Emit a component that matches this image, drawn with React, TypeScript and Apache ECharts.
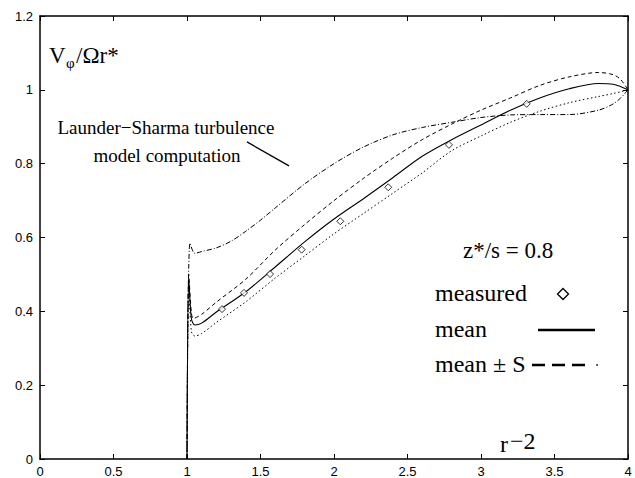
import React, { useEffect, useRef } from "react";
import * as echarts from "echarts";

// Axis ranges / ticks
const X_MIN = 0;
const X_MAX = 4;
const X_STEP = 0.5;
const Y_MIN = 0;
const Y_MAX = 1.2;
const Y_STEP = 0.2;

// Measured points (diamonds)
const measuredR = [1.238, 1.388, 1.565, 1.78, 2.043, 2.369, 2.782, 3.311];
const measuredV = [0.406, 0.45, 0.501, 0.567, 0.644, 0.736, 0.851, 0.962];

// Mean (solid)
const meanR = [1.0, 1.012, 1.03, 1.054, 1.1, 1.2, 1.4, 1.6, 1.8, 2.0, 2.2, 2.4, 2.6, 2.8, 3.0, 3.2, 3.4, 3.6, 3.8, 3.9, 4.0];
const meanV = [0, 0.49, 0.38, 0.363, 0.368, 0.398, 0.453, 0.52, 0.588, 0.65, 0.705, 0.762, 0.82, 0.865, 0.905, 0.945, 0.978, 1.003, 1.017, 1.015, 1.0];

// Mean + S (dashed)
const plusR = [1.0, 1.012, 1.03, 1.043, 1.1, 1.2, 1.4, 1.6, 1.8, 2.0, 2.2, 2.4, 2.6, 2.8, 3.0, 3.2, 3.4, 3.6, 3.8, 3.9, 3.95, 4.0];
const plusV = [0, 0.5, 0.395, 0.381, 0.392, 0.425, 0.487, 0.566, 0.635, 0.7, 0.76, 0.815, 0.865, 0.907, 0.945, 0.978, 1.012, 1.035, 1.047, 1.041, 1.028, 1.0];

// Mean - S (dotted)
const minusR = [1.0, 1.012, 1.03, 1.054, 1.1, 1.2, 1.4, 1.6, 1.8, 2.0, 2.2, 2.4, 2.6, 2.8, 3.0, 3.2, 3.4, 3.6, 3.8, 3.9, 4.0];
const minusV = [0, 0.47, 0.345, 0.333, 0.34, 0.37, 0.426, 0.49, 0.55, 0.61, 0.665, 0.72, 0.775, 0.835, 0.875, 0.912, 0.942, 0.965, 0.982, 0.99, 1.0];

// Launder-Sharma computation (dash-dot)
const lsR = [1.0, 1.02, 1.054, 1.1, 1.2, 1.3, 1.4, 1.5, 1.6, 1.8, 2.0, 2.2, 2.4, 2.6, 2.8, 3.0, 3.2, 3.4, 3.6, 3.8, 3.9, 3.95, 4.0];
const lsV = [0, 0.585, 0.557, 0.562, 0.572, 0.59, 0.617, 0.647, 0.68, 0.745, 0.8, 0.845, 0.878, 0.898, 0.912, 0.925, 0.932, 0.933, 0.933, 0.945, 0.962, 0.978, 1.0];

// Leader line for annotation
const leaderR = [1.408, 1.694];
const leaderV = [0.859, 0.794];

const zip = (xs: number[], ys: number[]) => xs.map((x, i) => [x, ys[i]]);

const SERIF = "Liberation Serif, Times New Roman, serif";
const SANS = "Liberation Sans, Arial, sans-serif";

function txt(x: number, baseline: number, text: string, size: number, align: string = "left") {
  return {
    type: "text",
    x,
    y: baseline - 0.34 * size,
    style: {
      text,
      fill: "#000",
      font: `${size}px ${SERIF}`,
      textAlign: align,
      textVerticalAlign: "middle",
      verticalAlign: "middle",
    },
    silent: true,
  };
}

export default function App() {
  const ref = useRef<HTMLDivElement>(null);
  useEffect(() => {
    if (!ref.current) return;
    const chart = echarts.init(ref.current, undefined, { renderer: "svg" });
    const axisLine = { show: true, onZero: false, lineStyle: { color: "#000", width: 1.5 } };
    const tick = { show: true, inside: true, length: 5, lineStyle: { color: "#000", width: 1 } };
    const lineBase = {
      type: "line",
      showSymbol: false,
      smooth: 0.3,
      silent: true,
      z: 3,
    };
    chart.setOption({
      animation: false,
      backgroundColor: "#fff",
      grid: { left: 40, right: 7, top: 16, bottom: 19, containLabel: false },
      xAxis: [
        {
          type: "value", min: X_MIN, max: X_MAX, interval: X_STEP, position: "bottom",
          axisLine, axisTick: tick, splitLine: { show: false },
          axisLabel: { color: "#000", fontFamily: SANS, fontSize: 13, margin: 6 },
        },
        {
          type: "value", min: X_MIN, max: X_MAX, interval: X_STEP, position: "top",
          axisLine, axisTick: tick, splitLine: { show: false }, axisLabel: { show: false },
        },
      ],
      yAxis: [
        {
          type: "value", min: Y_MIN, max: Y_MAX, interval: Y_STEP, position: "left",
          axisLine, axisTick: tick, splitLine: { show: false },
          axisLabel: { color: "#000", fontFamily: SANS, fontSize: 13, margin: 7 },
        },
        {
          type: "value", min: Y_MIN, max: Y_MAX, interval: Y_STEP, position: "right",
          axisLine, axisTick: tick, splitLine: { show: false }, axisLabel: { show: false },
        },
      ],
      series: [
        { ...lineBase, name: "Launder-Sharma", data: zip(lsR, lsV), lineStyle: { color: "#000", width: 1, type: [5, 2, 1, 2] } },
        { ...lineBase, name: "mean + S", data: zip(plusR, plusV), lineStyle: { color: "#000", width: 1, type: [4, 3] } },
        { ...lineBase, name: "mean - S", data: zip(minusR, minusV), lineStyle: { color: "#000", width: 1, type: [1.5, 2.5] } },
        { ...lineBase, name: "mean", data: zip(meanR, meanV), lineStyle: { color: "#000", width: 1.1 } },
        {
          type: "line", name: "leader", data: zip(leaderR, leaderV), showSymbol: false, silent: true,
          lineStyle: { color: "#000", width: 1.3 },
        },
        {
          type: "scatter", name: "measured", data: zip(measuredR, measuredV), symbol: "diamond", symbolSize: 7,
          itemStyle: { color: "#fff", borderColor: "#000", borderWidth: 1 }, z: 5, silent: true,
        },
      ],
      graphic: [
        txt(49, 63, "V", 23),
        txt(66, 68, "φ", 15),
        txt(76, 63, "/Ωr*", 23),
        txt(166, 133.5, "Launder−Sharma turbulence", 19, "center"),
        txt(167, 161.5, "model computation", 19, "center"),
        txt(463, 258, "z*/s = 0.8", 23),
        txt(435, 301, "measured", 24),
        txt(435, 337, "mean", 24),
        txt(435, 372, "mean ± S", 24),
        txt(500, 452, "r", 24),
        txt(510, 449, "−2", 24),
        {
          type: "polygon",
          shape: { points: [[563, 288.5], [568.5, 294], [563, 299.5], [557.5, 294]] },
          style: { fill: "#fff", stroke: "#000", lineWidth: 1.3 },
          silent: true,
        },
        {
          type: "line",
          shape: { x1: 538, y1: 330, x2: 595, y2: 330 },
          style: { stroke: "#000", lineWidth: 2.5 },
          silent: true,
        },
        {
          type: "line",
          shape: { x1: 532, y1: 365, x2: 586, y2: 365 },
          style: { stroke: "#000", lineWidth: 2.5, lineDash: [13, 7] },
          silent: true,
        },
        {
          type: "circle",
          shape: { cx: 597, cy: 365, r: 0.8 },
          style: { fill: "#000" },
          silent: true,
        },
      ],
    });
    return () => chart.dispose();
  }, []);
  return <div ref={ref} style={{ position: "fixed", left: 0, top: 0, width: 635, height: 478 }} />;
}
